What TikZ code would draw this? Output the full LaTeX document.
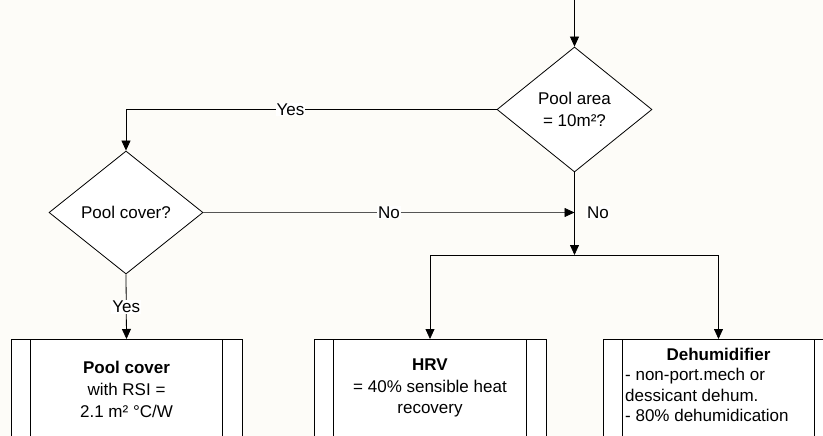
\documentclass[tikz,border=0pt]{standalone}
\usepackage{fontspec}
\setmainfont{Liberation Sans}
\usetikzlibrary{shapes.geometric,arrows.meta}
\definecolor{bgc}{RGB}{253,252,248}
\definecolor{lgray}{RGB}{85,85,85}
\tikzset{
  dec/.style={diamond,draw=black,fill=white,inner sep=0pt,align=center,line width=0.8pt},
  proc/.style={draw=black,fill=white,minimum height=130pt,anchor=north,line width=0.8pt},
  conn/.style={draw=black,line width=0.8pt,-{Triangle[length=10pt,width=9pt,color=black]}},
  plain/.style={draw=black,line width=0.8pt},
  lbl/.style={fill=white,inner sep=1pt},
  txt/.style={align=center,inner sep=0pt},
}
\newcommand{\procbars}[1]{%
  \draw[plain] ([xshift=20pt]#1.north west) -- ([xshift=20pt]#1.south west);
  \draw[plain] ([xshift=-20pt]#1.north east) -- ([xshift=-20pt]#1.south east);}
\begin{document}
\begin{tikzpicture}[x=1pt,y=-1pt,font=\fontsize{17}{22}\selectfont]
\useasboundingbox (0,0) rectangle (823,436);
\clip (0,0) rectangle (823,436);
\fill[bgc] (0,0) rectangle (823,436);
% decisions
\node[dec,minimum width=155pt,minimum height=125pt] (d1) at (574.5,109.5) {Pool area\\= 10m²?};
\node[dec,minimum width=154pt,minimum height=123pt] (d2) at (126,212.5) {Pool cover?};
% process boxes
\node[proc,minimum width=231pt] (b1) at (126.5,339) {};
\node[proc,minimum width=232pt] (b2) at (430,339) {};
\node[proc,minimum width=231pt] (b3) at (718.5,339) {};
\procbars{b1}
\procbars{b2}
\procbars{b3}
% texts
\node[txt,font=\fontsize{17}{22}\selectfont] (t1) at (126.5,389) {\textbf{Pool cover}\\with RSI =\\2.1 m² °C/W};
\node[txt,font=\fontsize{17}{21.5}\selectfont] (t2) at (430,388) {\textbf{HRV}\\= 40\% sensible heat\\recovery};
\node[txt] (t3) at (718.5,354) {\textbf{Dehumidifier}};
\node[txt,align=left,anchor=west,font=\fontsize{17}{20.5}\selectfont] (t4) at (625,395) {- non-port.mech or\\dessicant dehum.\\- 80\% dehumidication};
% coordinates
\coordinate (top) at (574.5,0);
\coordinate (j1) at (574.5,212.5);
\coordinate (j2) at (574.5,255);
\coordinate (jl) at (430,255);
\coordinate (jr) at (718.5,255);
% connectors
\draw[conn] (top) -- (d1.north);
\draw[conn] (d1.west) -- node[lbl,pos=0.556]{Yes} (d2.north |- d1.west) -- (d2.north);
\draw[conn,draw=lgray] (d2.east) -- node[lbl]{No} (j1);
\node[lbl] (no2) at (598,213) {No};
\draw[conn] (d1.south) -- (j2);
\draw[plain] (jl) -- (jr);
\draw[conn] (jl) -- (b2.north);
\draw[conn] (jr) -- (b3.north);
\draw[conn] (d2.south) -- node[lbl]{Yes} (b1.north);
\end{tikzpicture}
\end{document}
